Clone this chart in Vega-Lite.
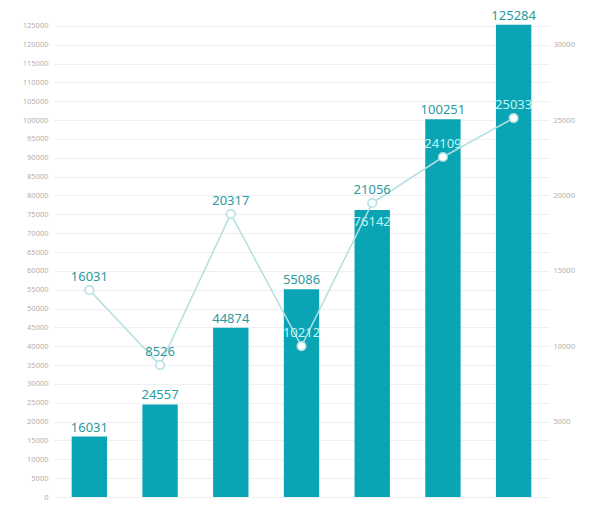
{
  "$schema": "https://vega.github.io/schema/vega-lite/v6.json",
  "width": 495,
  "height": 490,
  "autosize": {"type": "none"},
  "padding": {"left": 54, "top": 7, "right": 49, "bottom": 8},
  "background": "white",
  "config": {"view": {"stroke": null}, "font": "Noto Sans"},
  "data": {"values": [
    {"cat": "2012", "sales": 16031, "line": 13730, "lineLabel": "16031"},
    {"cat": "2013", "sales": 24557, "line": 8750, "lineLabel": "8526"},
    {"cat": "2014", "sales": 44874, "line": 18770, "lineLabel": "20317"},
    {"cat": "2015", "sales": 55086, "line": 10010, "lineLabel": "10212"},
    {"cat": "2016", "sales": 76142, "line": 19500, "lineLabel": "21056"},
    {"cat": "2017", "sales": 100251, "line": 22550, "lineLabel": "24109"},
    {"cat": "2018", "sales": 125284, "line": 25130, "lineLabel": "25033"}
  ]},
  "encoding": {
    "x": {"field": "cat", "type": "nominal", "sort": null,
          "scale": {"paddingInner": 0.5, "paddingOuter": 0.25},
          "axis": null}
  },
  "layer": [
    {
      "encoding": {
        "y": {"field": "sales", "type": "quantitative",
              "scale": {"domain": [0, 130000], "nice": false},
              "axis": {"values": [0,5000,10000,15000,20000,25000,30000,35000,40000,45000,50000,55000,60000,65000,70000,75000,80000,85000,90000,95000,100000,105000,110000,115000,120000,125000],
                       "title": null, "domain": false, "ticks": false, "labelFontSize": 7.5, "labelColor": "#b0b0b0", "labelPadding": 6,
                       "labelOverlap": false, "gridColor": "#efefef", "format": "d"}}
      },
      "layer": [
        {
          "mark": {"type": "bar", "color": "#0aa5b5"}
        },
        {
          "transform": [{"filter": "datum.sales != 76142"}],
          "mark": {"type": "text", "baseline": "bottom", "dy": -2, "fontSize": 13, "color": "#2a9aa0"},
          "encoding": {
            "text": {"field": "sales", "type": "quantitative", "format": "d"}
          }
        },
        {
          "transform": [{"filter": "datum.sales == 76142"}],
          "mark": {"type": "text", "baseline": "middle", "dy": 12, "fontSize": 13, "color": "#c4f4f6"},
          "encoding": {
            "text": {"field": "sales", "type": "quantitative", "format": "d"}
          }
        }
      ]
    },
    {
      "encoding": {
        "y": {"field": "line", "type": "quantitative",
              "scale": {"domain": [0, 32500], "nice": false},
              "axis": {"orient": "right", "values": [5000,10000,15000,20000,25000,30000],
                       "title": null, "domain": false, "ticks": false, "grid": false, "labelOverlap": false,
                       "labelFontSize": 7.5, "labelColor": "#b0b0b0", "labelPadding": 4, "format": "d"}}
      },
      "layer": [
        {
          "mark": {"type": "line", "color": "#b2dfe0", "strokeWidth": 1.5}
        },
        {
          "mark": {"type": "point", "shape": "circle", "filled": true, "fill": "white", "stroke": "#b2dfe0", "strokeWidth": 1.5, "size": 75, "opacity": 1}
        },
        {
          "mark": {"type": "text", "baseline": "middle", "dy": -13, "fontSize": 13},
          "encoding": {
            "text": {"field": "lineLabel"},
            "color": {"condition": {"test": "datum.cat == '2015' || datum.cat == '2017' || datum.cat == '2018'", "value": "#c4f4f6"}, "value": "#2a9aa0"}
          }
        }
      ]
    }
  ],
  "resolve": {"scale": {"y": "independent"}}
}
